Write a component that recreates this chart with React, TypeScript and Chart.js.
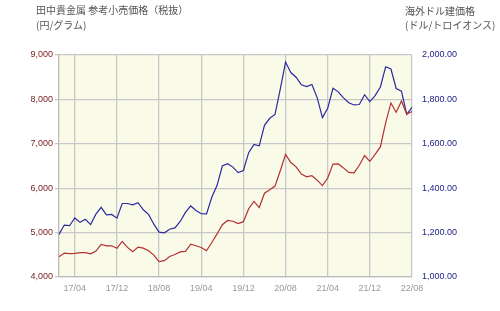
import React, { useEffect, useRef } from "react";
import { Chart, registerables } from "chart.js";

Chart.register(...registerables);

const months: string[] = [
  "17/01","17/02","17/03","17/04","17/05","17/06","17/07","17/08","17/09","17/10","17/11","17/12",
  "18/01","18/02","18/03","18/04","18/05","18/06","18/07","18/08","18/09","18/10","18/11","18/12",
  "19/01","19/02","19/03","19/04","19/05","19/06","19/07","19/08","19/09","19/10","19/11","19/12",
  "20/01","20/02","20/03","20/04","20/05","20/06","20/07","20/08","20/09","20/10","20/11","20/12",
  "21/01","21/02","21/03","21/04","21/05","21/06","21/07","21/08","21/09","21/10","21/11","21/12",
  "22/01","22/02","22/03","22/04","22/05","22/06","22/07","22/08",
];

// 田中貴金属 参考小売価格（税抜） 円/グラム
const yenPerGram: number[] = [
  4458,4538,4527,4532,4550,4548,4522,4584,4736,4701,4704,4647,
  4801,4668,4571,4673,4651,4593,4493,4345,4369,4461,4507,4564,
  4575,4740,4703,4666,4592,4778,4970,5177,5274,5256,5202,5246,
  5537,5703,5564,5888,5966,6047,6394,6762,6577,6481,6318,6256,
  6280,6182,6059,6228,6544,6547,6457,6356,6344,6517,6735,6604,
  6761,6929,7473,7920,7712,7963,7666,7728,
];

// 海外ドル建価格 ドル/トロイオンス
const usdPerOz: number[] = [
  1192,1234,1231,1266,1246,1260,1236,1283,1314,1280,1282,1265,
  1331,1331,1325,1335,1303,1282,1238,1202,1199,1215,1221,1250,
  1291,1320,1300,1285,1284,1359,1413,1500,1510,1495,1470,1480,
  1560,1597,1591,1683,1715,1732,1846,1968,1921,1900,1866,1858,
  1867,1808,1718,1760,1850,1834,1807,1785,1775,1777,1821,1790,
  1817,1856,1947,1937,1849,1837,1733,1764,
];

const leftTitle = ["田中貴金属 参考小売価格（税抜）", "(円/グラム)"];
const rightTitle = ["海外ドル建価格", "(ドル/トロイオンス)"];

const isMajor = (i: number) => (i - 3) % 8 === 0;

export default function App() {
  const ref = useRef<HTMLCanvasElement | null>(null);
  useEffect(() => {
    if (!ref.current) return;
    const bgPlugin = {
      id: "plotBg",
      beforeDraw(chart: any) {
        const { ctx, chartArea } = chart;
        if (!chartArea) return;
        ctx.save();
        ctx.fillStyle = "#fafae9";
        ctx.fillRect(chartArea.left, chartArea.top, chartArea.right - chartArea.left, chartArea.bottom - chartArea.top);
        ctx.restore();
      },
    };
    const tickFont = { family: "'Liberation Sans', Arial, sans-serif", size: 9 };
    const chart = new Chart(ref.current, {
      type: "line",
      data: {
        labels: months,
        datasets: [
          {
            label: "円/グラム",
            data: yenPerGram,
            yAxisID: "y",
            borderColor: "#b33030",
            borderWidth: 1.2,
            pointRadius: 0,
            tension: 0,
          },
          {
            label: "ドル/トロイオンス",
            data: usdPerOz,
            yAxisID: "y1",
            borderColor: "#2a2aa0",
            borderWidth: 1.2,
            pointRadius: 0,
            tension: 0,
          },
        ],
      },
      options: {
        responsive: false,
        animation: false,
        layout: { padding: { top: 55, left: 0, right: 0, bottom: 0 } },
        plugins: { legend: { display: false }, tooltip: { enabled: false } },
        scales: {
          x: {
            type: "category",
            offset: false,
            afterFit(scale: any) { scale.height = 34; },
            grid: {
              color: (ctx: any) => (isMajor(ctx.index) ? "#c8c8c8" : "rgba(0,0,0,0)"),
              lineWidth: 1.3,
              drawTicks: false,
            },
            border: { display: true, color: "#bdbdbd", width: 1.3 },
            ticks: {
              autoSkip: false,
              maxRotation: 0,
              minRotation: 0,
              padding: 6,
              color: "#9a9a9a",
              font: tickFont,
              callback: (_v: any, i: number) => (isMajor(i) ? months[i] : ""),
            },
          },
          y: {
            position: "left",
            min: 4000,
            max: 9000,
            afterFit(scale: any) { scale.width = 59; },
            grid: { color: "#c8c8c8", lineWidth: 1.3, tickLength: 4 },
            border: { display: true, color: "#bdbdbd", width: 1.3 },
            ticks: {
              stepSize: 1000,
              padding: 2,
              color: "#7a1a1a",
              font: tickFont,
              callback: (v: any) => Number(v).toLocaleString("en-US"),
            },
          },
          y1: {
            position: "right",
            min: 1000,
            max: 2000,
            afterFit(scale: any) { scale.width = 88; },
            grid: { display: false, drawOnChartArea: false },
            border: { display: false },
            ticks: {
              stepSize: 200,
              padding: 2,
              color: "#22228a",
              font: tickFont,
              callback: (v: any) =>
                Number(v).toLocaleString("en-US", { minimumFractionDigits: 2, maximumFractionDigits: 2 }),
            },
          },
        },
      },
      plugins: [bgPlugin],
    } as any);
    return () => chart.destroy();
  }, []);

  const titleStyle: React.CSSProperties = {
    position: "absolute",
    fontFamily: "'Noto Sans CJK JP', sans-serif",
    fontSize: 10,
    lineHeight: "14px",
    color: "#555",
    whiteSpace: "nowrap",
  };

  return (
    <div style={{ position: "absolute", left: 0, top: 0, width: 500, height: 311, background: "#fff" }}>
      <canvas ref={ref} width={500} height={311} style={{ display: "block" }} />
      <div style={{ ...titleStyle, left: 36, top: 3 }}>{leftTitle[0]}</div>
      <div style={{ ...titleStyle, left: 36, top: 18 }}>{leftTitle[1]}</div>
      <div style={{ ...titleStyle, left: 405, top: 4 }}>{rightTitle[0]}</div>
      <div style={{ ...titleStyle, left: 405, top: 18 }}>{rightTitle[1]}</div>
    </div>
  );
}
